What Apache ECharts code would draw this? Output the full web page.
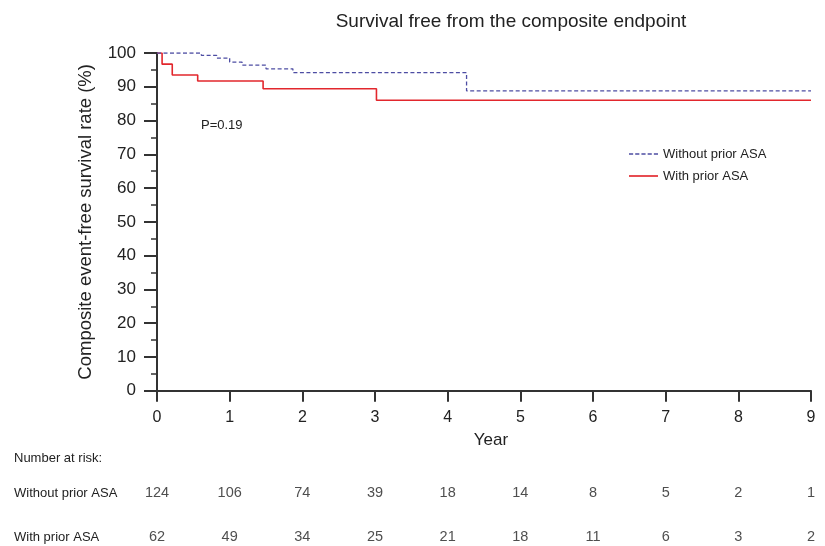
<!DOCTYPE html>
<html>
<head>
<meta charset="utf-8">
<script src="https://cdn.jsdelivr.net/npm/echarts@6/dist/echarts.min.js"></script>
<style>html,body{margin:0;padding:0;background:#fff}#c{width:825px;height:546px}</style>
</head>
<body>
<div id="c"></div>
<script>
// Kaplan-Meier step points: [year, survival %]
var withoutPrior = [[0,100],[0.61,99.3],[0.82,98.5],[1.0,97.3],[1.17,96.4],[1.50,95.3],[1.87,94.2],[4.26,88.8],[9,88.8]];
var withPrior = [[0,100],[0.07,96.7],[0.21,93.5],[0.56,91.7],[1.46,89.4],[3.02,86.0],[9,86.0]];
var riskYears = [0,1,2,3,4,5,6,7,8,9];
var riskWithout = [124,106,74,39,18,14,8,5,2,1];
var riskWith = [62,49,34,25,21,18,11,6,3,2];
var groups = ['Without prior ASA','With prior ASA'];
var yTicks = {min:0, max:100, interval:10};
var xTicks = {min:0, max:9, interval:1};

var font = 'Liberation Sans, Arial, sans-serif';
var blue = '#4d4da3', red = '#e2272d';
var chart = echarts.init(document.getElementById('c'));

function riskData(vals, row){
  return vals.map(function(v,i){ return [riskYears[i], row, v]; });
}
var dashIcon = 'path://M0,0h4v1.3h-4zM6,0h4v1.3h-4zM12,0h4v1.3h-4zM18,0h4v1.3h-4zM24,0h4v1.3h-4z';
var solidIcon = 'path://M0,0h28v1.6h-28z';

chart.setOption({
  animation:false,
  backgroundColor:'#fff',
  textStyle:{fontFamily:font},
  title:[
    {text:'Survival free from the composite endpoint', left:506, top:7, textAlign:'center',
     textStyle:{fontSize:19, fontWeight:'normal', color:'#222', fontFamily:font}},
    {text:'Number at risk:', left:9, top:447,
     textStyle:{fontSize:13, fontWeight:'normal', color:'#222', fontFamily:font}}
  ],
  graphic:[
    {type:'text', left:201, top:119, style:{text:'P=0.19', font:'13px '+font, fill:'#222'}}
  ],
  legend:{
    orient:'vertical', left:624, top:142, itemWidth:29, itemHeight:14, itemGap:8,
    textStyle:{fontSize:13, lineHeight:14, color:'#222', fontFamily:font},
    data:[{name:groups[0], icon:dashIcon},{name:groups[1], icon:solidIcon}]
  },
  grid:[
    {left:157, right:14, top:53, bottom:155.3},
    {left:157, right:14, top:493, height:44}
  ],
  xAxis:[
    {type:'value', gridIndex:0, min:xTicks.min, max:xTicks.max, interval:xTicks.interval,
     name:'Year', nameLocation:'middle', nameGap:41,
     nameTextStyle:{fontSize:17, color:'#222', fontFamily:font, padding:[0,0,0,14]},
     axisLine:{lineStyle:{color:'#333', width:2}},
     axisTick:{length:11, lineStyle:{color:'#333', width:2}},
     axisLabel:{fontSize:16, color:'#222', margin:19, fontFamily:font},
     splitLine:{show:false}},
    {type:'value', gridIndex:1, min:xTicks.min, max:xTicks.max, show:false}
  ],
  yAxis:[
    {type:'value', gridIndex:0, min:yTicks.min, max:yTicks.max, interval:yTicks.interval,
     name:'Composite event-free survival rate (%)', nameLocation:'middle', nameGap:62, nameRotate:90,
     nameTextStyle:{fontSize:18.5, color:'#222', fontFamily:font},
     axisLine:{show:true, lineStyle:{color:'#333', width:2}},
     axisTick:{show:true, length:13, lineStyle:{color:'#333', width:2}},
     minorTick:{show:true, splitNumber:2, length:6, lineStyle:{color:'#333', width:1.5}},
     axisLabel:{fontSize:17, color:'#222', margin:21, fontFamily:font},
     splitLine:{show:false}},
    {type:'value', gridIndex:1, min:0, max:1, interval:1, inverse:true,
     axisLine:{show:false}, axisTick:{show:false}, splitLine:{show:false},
     axisLabel:{align:'left', margin:143, fontSize:13, color:'#222', fontFamily:font,
       formatter:function(v){ return groups[v] || ''; }}}
  ],
  series:[
    {name:groups[0], type:'line', step:'end', data:withoutPrior, symbol:'none',
     lineStyle:{color:blue, width:1.3, type:[4,2.5]}, itemStyle:{color:blue}, z:3},
    {name:groups[1], type:'line', step:'end', data:withPrior, symbol:'none',
     lineStyle:{color:red, width:1.6}, itemStyle:{color:red}, z:2},
    {type:'scatter', xAxisIndex:1, yAxisIndex:1, symbolSize:0, silent:true,
     data:riskData(riskWithout, 0),
     label:{show:true, position:'inside', formatter:function(p){return p.value[2];}, fontSize:14.5, color:'#222', fontFamily:font}},
    {type:'scatter', xAxisIndex:1, yAxisIndex:1, symbolSize:0, silent:true,
     data:riskData(riskWith, 1),
     label:{show:true, position:'inside', formatter:function(p){return p.value[2];}, fontSize:14.5, color:'#222', fontFamily:font}}
  ]
});
</script>
</body>
</html>
